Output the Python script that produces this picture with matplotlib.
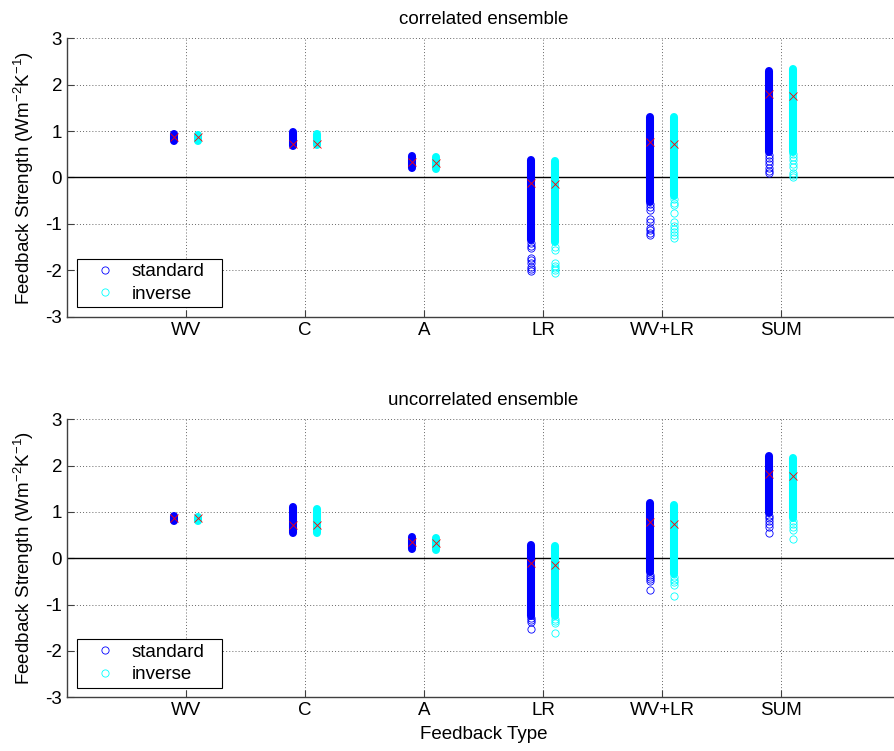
import matplotlib

matplotlib.use("Agg")
import matplotlib.pyplot as plt
from matplotlib.lines import Line2D

plt.rcParams["font.family"] = ["Liberation Sans", "DejaVu Sans"]
plt.rcParams["mathtext.fontset"] = "custom"
plt.rcParams["mathtext.rm"] = "Liberation Sans"
plt.rcParams["mathtext.it"] = "Liberation Sans:italic"
plt.rcParams["axes.unicode_minus"] = False

CATEGORIES = ["WV", "C", "A", "LR", "WV+LR", "SUM"]

# Each ensemble column: a packed run of members (lo, hi), the stray members
# below/above it, and the ensemble mean.

# correlated ensemble, standard
CORR_STD_SPANS = [(0.79, 0.94), (0.68, 0.98), (0.20, 0.46), (-1.35, 0.38), (-0.52, 1.30), (0.55, 2.30)]
CORR_STD_POINTS = [
    [],
    [],
    [],
    [-1.42, -1.48, -1.52, -1.73, -1.78, -1.85, -1.92, -1.97, -2.01],
    [-0.58, -0.64, -0.70, -0.90, -0.96, -1.08, -1.14, -1.20, -1.25],
    [0.48, 0.42, 0.36, 0.28, 0.20, 0.14, 0.09],
]
CORR_STD_MEANS = [0.88, 0.72, 0.33, -0.12, 0.77, 1.80]

# correlated ensemble, inverse
CORR_INV_SPANS = [(0.78, 0.92), (0.70, 0.94), (0.18, 0.44), (-1.40, 0.35), (-0.40, 1.30), (0.55, 2.34)]
CORR_INV_POINTS = [
    [],
    [],
    [],
    [-1.50, -1.56, -1.84, -1.90, -1.95, -2.00, -2.05],
    [-0.47, -0.55, -0.59, -0.77, -0.97, -1.05, -1.12, -1.18, -1.24, -1.30],
    [0.50, 0.45, 0.37, 0.30, 0.23, 0.10, 0.05, 0.01],
]
CORR_INV_MEANS = [0.88, 0.72, 0.32, -0.15, 0.72, 1.76]

# uncorrelated ensemble, standard
UNCORR_STD_SPANS = [(0.80, 0.92), (0.55, 1.10), (0.20, 0.45), (-1.24, 0.29), (-0.30, 1.19), (0.98, 2.21)]
UNCORR_STD_POINTS = [
    [],
    [],
    [],
    [-1.29, -1.34, -1.38, -1.53],
    [-0.35, -0.40, -0.45, -0.50, -0.68],
    [0.92, 0.86, 0.80, 0.74, 0.67, 0.55],
]
UNCORR_STD_MEANS = [0.88, 0.72, 0.35, -0.11, 0.78, 1.81]

# uncorrelated ensemble, inverse
UNCORR_INV_SPANS = [(0.80, 0.90), (0.55, 1.06), (0.18, 0.43), (-1.24, 0.26), (-0.34, 1.14), (0.86, 2.16)]
UNCORR_INV_POINTS = [
    [],
    [],
    [],
    [-1.30, -1.35, -1.40, -1.61],
    [-0.40, -0.46, -0.52, -0.58, -0.81],
    [0.80, 0.74, 0.67, 0.62, 0.41],
]
UNCORR_INV_MEANS = [0.88, 0.72, 0.33, -0.15, 0.74, 1.77]

STD_COLOR = (0.0, 0.0, 1.0)
INV_COLOR = (0.0, 1.0, 1.0)
FS = 13.5
MS = 5.2
MEW = 0.6
SPAN_W = MS + MEW


def draw_column(ax, x, color, span, points, mean):
    ax.plot([x, x], [span[0], span[1]], color=color, lw=SPAN_W,
            solid_capstyle="round", zorder=3)
    if points:
        ax.plot([x] * len(points), points, "o", mfc="none", mec=color,
                ms=MS, mew=MEW, zorder=3)
    ax.plot([x], [mean], "x", color="red", ms=6, mew=0.6, zorder=4)


def draw_panel(ax, title, std, inv, xlabel=None):
    for i in range(len(CATEGORIES)):
        x = i + 1
        draw_column(ax, x - 0.1, STD_COLOR, std[0][i], std[1][i], std[2][i])
        draw_column(ax, x + 0.1, INV_COLOR, inv[0][i], inv[1][i], inv[2][i])

    ax.axhline(0, color="k", lw=1.0, zorder=2)
    ax.set_xlim(0, 7)
    ax.set_ylim(-3, 3)
    ax.set_xticks(range(1, len(CATEGORIES) + 1))
    ax.set_xticklabels(CATEGORIES)
    ax.set_yticks(range(-3, 4))
    ax.set_axisbelow(True)
    ax.grid(True, linestyle=(0, (1, 2.2)), color="0.4", lw=0.7)

    for side in ("top", "right"):
        ax.spines[side].set_visible(False)
    for side in ("left", "bottom"):
        ax.spines[side].set_color("0.25")
        ax.spines[side].set_linewidth(1.0)

    ax.tick_params(direction="in", length=5, width=0.8, color="0.25",
                   labelsize=FS, top=False, right=False)
    ax.tick_params(axis="x", pad=3.5)
    ax.tick_params(axis="y", pad=3.6)

    ax.set_title(title, fontsize=FS, pad=10.5)
    ax.set_ylabel("Feedback Strength (Wm$^{-2}$K$^{-1}$)", fontsize=FS)
    ax.yaxis.set_label_coords(-0.037, 0.5)
    if xlabel:
        ax.set_xlabel(xlabel, fontsize=FS)
        ax.xaxis.set_label_coords(0.5, -0.105)

    handles = [
        Line2D([], [], ls="none", marker="o", mfc="none", mec=STD_COLOR, ms=MS, mew=MEW),
        Line2D([], [], ls="none", marker="o", mfc="none", mec=INV_COLOR, ms=MS, mew=MEW),
    ]
    leg = ax.legend(handles, ["standard", "inverse"], loc="lower left",
                    bbox_to_anchor=(0.012, 0.035, 0.174, 0.18), mode="expand",
                    borderaxespad=0, borderpad=0.22, handlelength=2.55,
                    handletextpad=0.15, labelspacing=0.3, fontsize=FS,
                    fancybox=False, framealpha=1, edgecolor="k")
    leg.get_frame().set_linewidth(0.8)


fig = plt.figure(figsize=(8.95, 7.51), dpi=100)
ax_top = fig.add_axes([0.0749, 0.5783, 0.9307, 0.3708])
ax_bot = fig.add_axes([0.0749, 0.0715, 0.9307, 0.3702])

draw_panel(ax_top, "correlated ensemble",
           (CORR_STD_SPANS, CORR_STD_POINTS, CORR_STD_MEANS),
           (CORR_INV_SPANS, CORR_INV_POINTS, CORR_INV_MEANS))
draw_panel(ax_bot, "uncorrelated ensemble",
           (UNCORR_STD_SPANS, UNCORR_STD_POINTS, UNCORR_STD_MEANS),
           (UNCORR_INV_SPANS, UNCORR_INV_POINTS, UNCORR_INV_MEANS),
           xlabel="Feedback Type")

fig.savefig("out.png", dpi=100)
